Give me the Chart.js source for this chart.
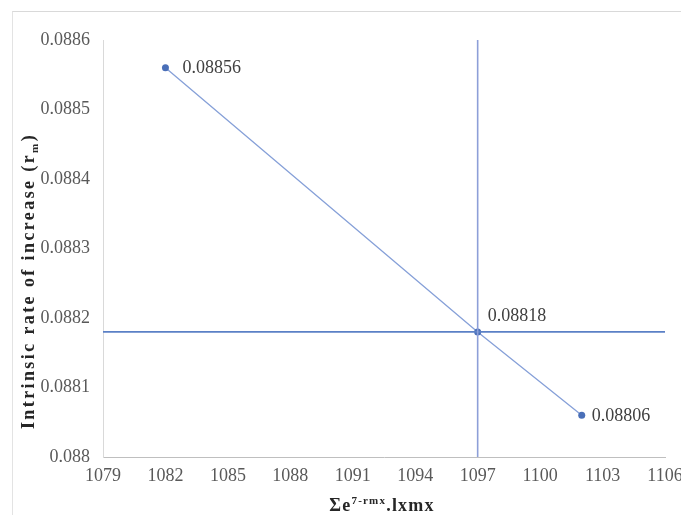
<!DOCTYPE html>
<html>
<head>
<meta charset="utf-8">
<script src="https://cdn.jsdelivr.net/npm/chart.js@4/dist/chart.umd.min.js"></script>
<style>
	html, body { margin: 0; padding: 0; background: #fff; }
	#wrap { position: relative; width: 681px; height: 515px; }
	#frame { position: absolute; left: 12px; top: 11px; right: 0; bottom: 0; border-top: 1px solid #d9d9d9; border-left: 1px solid #e3e3e3; }
	canvas { position: absolute; left: 0; top: 0; }
</style>
</head>
<body>
<div id="wrap">
	<div id="frame"></div>
	<canvas id="rateChart" width="681" height="515"></canvas>
</div>
<script>
(() => {
	'use strict'

	const sumValues = [1082, 1097, 1102];
	const rateValues = [0.08856, 0.08818, 0.08806];
	const rateLabels = ['0.08856', '0.08818', '0.08806'];
	const crossX = 1097;
	const crossY = 0.08818;
	const xTicks = [1079, 1082, 1085, 1088, 1091, 1094, 1097, 1100, 1103, 1106];
	const yTicks = [0.088, 0.0881, 0.0882, 0.0883, 0.0884, 0.0885, 0.0886];

	const serif = "'Liberation Serif', 'Times New Roman', serif";
	const labelOffsets = [[17, 0], [10, -16], [10, 1]];

	function drawRich(ctx, parts, x, y, angle, spacing) {
		ctx.save();
		ctx.translate(x, y);
		ctx.rotate(angle);
		ctx.textBaseline = 'alphabetic';
		ctx.textAlign = 'left';
		ctx.letterSpacing = spacing + 'px';
		let total = 0;
		parts.forEach(function(part) {
			ctx.font = part.font;
			total += ctx.measureText(part.text).width;
		});
		let cursor = -total / 2;
		parts.forEach(function(part) {
			ctx.font = part.font;
			ctx.fillStyle = part.color || '#262626';
			ctx.fillText(part.text, cursor, part.shift || 0);
			cursor += ctx.measureText(part.text).width;
		});
		ctx.restore();
	}

	const annotatePlugin = {
		id: 'annotate',
		afterDatasetsDraw(chart) {
			const ctx = chart.ctx;
			const meta = chart.getDatasetMeta(2);
			ctx.save();
			ctx.font = '18px ' + serif;
			ctx.fillStyle = '#404040';
			ctx.textBaseline = 'middle';
			ctx.textAlign = 'left';
			meta.data.forEach(function(point, index) {
				ctx.fillText(rateLabels[index], point.x + labelOffsets[index][0], point.y + labelOffsets[index][1]);
			});
			ctx.restore();
		},
		afterDraw(chart) {
			const ctx = chart.ctx;
			const bold = 'bold 18px ' + serif;
			drawRich(ctx, [
				{ text: 'Intrinsic rate of increase (r', font: bold },
				{ text: 'm', font: 'bold 11px ' + serif, shift: 4 },
				{ text: ')', font: bold }
			], 34, 281, -Math.PI / 2, 2.4);
			drawRich(ctx, [
				{ text: 'Σe', font: bold },
				{ text: '7-rmx', font: 'bold 11px ' + serif, shift: -7 },
				{ text: '.lxmx', font: bold }
			], 382, 511, 0, 1.2);
		}
	};

	const ctx = document.getElementById('rateChart');

	new Chart(ctx, {
		type: 'scatter',
		data: {
			datasets: [
				{
					data: [{ x: crossX, y: yTicks[0] }, { x: crossX, y: yTicks[yTicks.length - 1] }],
					showLine: true,
					borderColor: '#8d9fd8',
					borderWidth: 1.6,
					pointRadius: 0
				},
				{
					data: [{ x: xTicks[0], y: crossY }, { x: xTicks[xTicks.length - 1], y: crossY }],
					showLine: true,
					borderColor: '#5b80c6',
					borderWidth: 1.6,
					pointRadius: 0
				},
				{
					data: sumValues.map((value, index) => ({ x: value, y: rateValues[index] })),
					showLine: true,
					borderColor: '#86a0d8',
					borderWidth: 1.3,
					pointRadius: 3.5,
					pointBackgroundColor: '#4a6fb8',
					pointBorderColor: '#4a6fb8',
					pointBorderWidth: 0
				}
			]
		},
		options: {
			responsive: false,
			animation: false,
			layout: { padding: { left: 0, top: 40, right: 16, bottom: 0 } },
			plugins: {
				legend: { display: false },
				tooltip: { enabled: false }
			},
			scales: {
				x: {
					type: 'linear',
					min: xTicks[0],
					max: xTicks[xTicks.length - 1],
					afterBuildTicks: function(scale) {
						scale.ticks = xTicks.map((value) => ({ value }));
					},
					afterFit: function(scale) {
						scale.height = 58;
						scale.paddingRight = 0;
						scale.paddingLeft = 0;
					},
					grid: { display: false, drawTicks: false },
					border: { display: true, color: '#bfbfbf', width: 1 },
					ticks: {
						color: '#595959',
						font: { family: serif, size: 18 },
						padding: 8,
						maxRotation: 0,
						callback: function(value) {
							return String(value);
						}
					}
				},
				y: {
					min: yTicks[0],
					max: yTicks[yTicks.length - 1],
					afterBuildTicks: function(scale) {
						scale.ticks = yTicks.map((value) => ({ value }));
					},
					afterFit: function(scale) {
						scale.width = 103;
						scale.paddingTop = 0;
						scale.paddingBottom = 0;
					},
					grid: { display: false, drawTicks: false },
					border: { display: true, color: '#d9d9d9', width: 1 },
					ticks: {
						color: '#595959',
						font: { family: serif, size: 18 },
						padding: 13,
						callback: function(value) {
							return parseFloat(value.toFixed(5)).toString();
						}
					}
				}
			}
		},
		plugins: [annotatePlugin]
	});
})()
</script>
</body>
</html>
